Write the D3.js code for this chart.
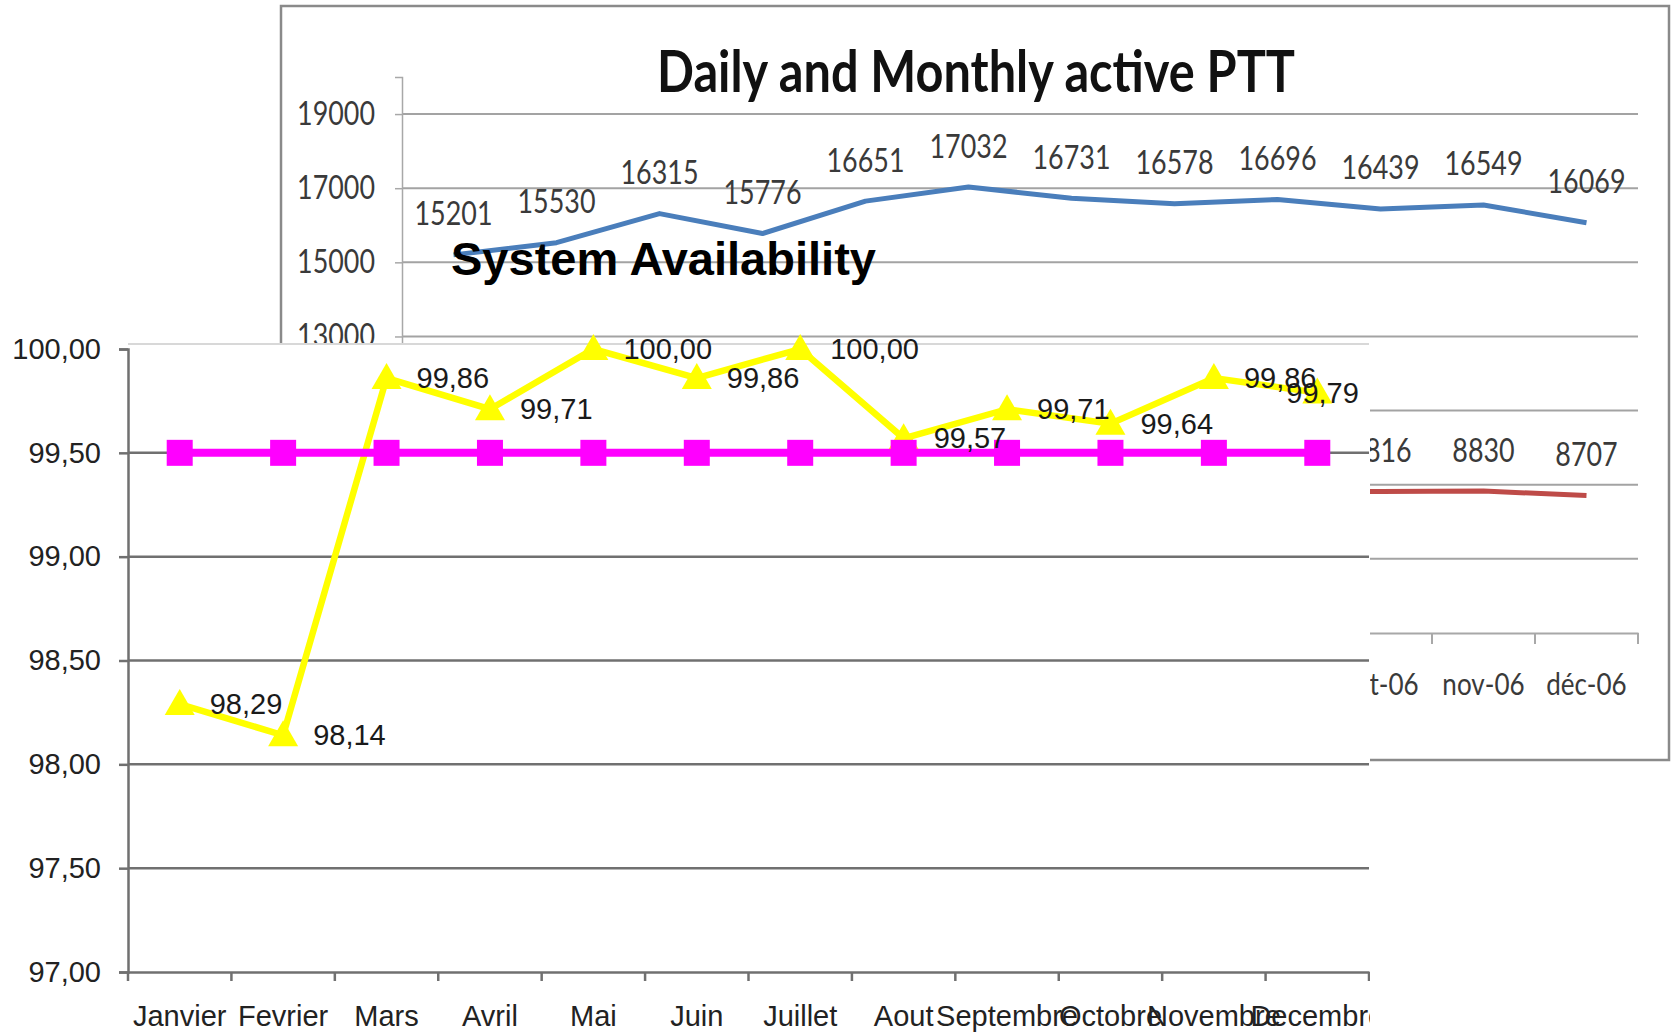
<!DOCTYPE html>
<html>
<head>
<meta charset="utf-8">
<script src="https://cdn.jsdelivr.net/npm/d3@7/dist/d3.min.js"></script>
<style>
  html, body { margin: 0; padding: 0; background: #fff; }
  svg { display: block; }
</style>
</head>
<body>
<svg id="chart" width="1673" height="1032"></svg>
<script>
// ---------- DATA ----------
// Back chart: "Daily and Monthly active PTT"
const backMonths = ["janv-06","févr-06","mars-06","avr-06","mai-06","juin-06","juil-06","août-06","sept-06","oct-06","nov-06","déc-06"];
const monthlyActive = [15201, 15530, 16315, 15776, 16651, 17032, 16731, 16578, 16696, 16439, 16549, 16069];
// Daily active: only Oct–Dec readable; Sep estimated from the visible line edge, the rest hidden.
const dailyActive = [null, null, null, null, null, null, null, null, 8810, 8816, 8830, 8707];
const backTicks = [5000, 7000, 9000, 11000, 13000, 15000, 17000, 19000];

// Front chart: "System Availability"
const months = ["Janvier","Fevrier","Mars","Avril","Mai","Juin","Juillet","Aout","Septembre","Octobre","Novembre","Decembre"];
const availability = [98.29, 98.14, 99.86, 99.71, 100.00, 99.86, 100.00, 99.57, 99.71, 99.64, 99.86, 99.79];
const target = [99.50, 99.50, 99.50, 99.50, 99.50, 99.50, 99.50, 99.50, 99.50, 99.50, 99.50, 99.50];
const frontTicks = [97.0, 97.5, 98.0, 98.5, 99.0, 99.5, 100.0];

// ---------- SETUP ----------
const svg = d3.select("#chart");
const calib = "Lato, 'Open Sans', sans-serif";
const arial = "'Liberation Sans', Arial, sans-serif";
const fmtComma = v => d3.format(".2f")(v).replace(".", ",");
// narrow the (Calibri-like) texts horizontally
function condense(sel, sx) {
  sel.each(function () {
    const w = this.getComputedTextLength();
    d3.select(this).attr("textLength", w * sx).attr("lengthAdjust", "spacingAndGlyphs");
  });
}
const SX = 0.84;

// ---------- BACK CHART ----------
const back = svg.append("g");
back.append("rect")
  .attr("x", 281).attr("y", 6).attr("width", 1388).attr("height", 754)
  .attr("fill", "#fff").attr("stroke", "#8a8a8a").attr("stroke-width", 2.5);

const xB = d3.scaleBand().domain(backMonths).range([402, 1638]);
const yB = d3.scaleLinear().domain([5000, 20000]).range([633, 77]);

// gridlines
back.append("g").selectAll("line").data(backTicks.filter(t => t > 5000)).join("line")
  .attr("x1", 402).attr("x2", 1638)
  .attr("y1", d => yB(d)).attr("y2", d => yB(d))
  .attr("stroke", "#a3a3a3").attr("stroke-width", 2);

// y axis
const yAxisB = back.append("g").attr("transform", "translate(402,0)")
  .call(d3.axisLeft(yB).tickValues(backTicks).tickSize(7).tickPadding(20).tickFormat(d3.format("d")));
yAxisB.select(".domain").attr("stroke", "#a8a8a8").attr("stroke-width", 1.5);
yAxisB.selectAll(".tick line").attr("stroke", "#a8a8a8").attr("stroke-width", 1.5);
yAxisB.selectAll("text").attr("font-family", calib).attr("font-size", 32).attr("fill", "#3a3a3a").call(condense, SX);

// x axis
const xAxisB = back.append("g").attr("transform", `translate(0,${yB(5000)})`)
  .call(d3.axisBottom(xB).tickSize(0).tickPadding(40));
xAxisB.select(".domain").attr("stroke", "#a8a8a8").attr("stroke-width", 2);
xAxisB.selectAll("text").attr("font-family", calib).attr("font-size", 31).attr("fill", "#3a3a3a").call(condense, SX);
back.append("g").selectAll("line").data(d3.range(13)).join("line")
  .attr("x1", i => 402 + i * xB.step()).attr("x2", i => 402 + i * xB.step())
  .attr("y1", yB(5000)).attr("y2", yB(5000) + 11)
  .attr("stroke", "#a8a8a8").attr("stroke-width", 2);

// series
const lineB = vals => d3.line()
  .defined(d => d != null)
  .x((d, i) => xB(backMonths[i]) + xB.bandwidth() / 2)
  .y(d => yB(d))(vals);

back.append("path").attr("d", lineB(monthlyActive))
  .attr("fill", "none").attr("stroke", "#4A7EBB").attr("stroke-width", 5).attr("stroke-linejoin", "round");
back.append("path").attr("d", lineB(dailyActive))
  .attr("fill", "none").attr("stroke", "#BE4B48").attr("stroke-width", 5).attr("stroke-linejoin", "round");

const labelB = (vals, fromIdx) => back.append("g").selectAll("text")
  .data(vals.map((v, i) => ({ v, i })).filter(d => d.v != null && d.i >= fromIdx))
  .join("text")
  .attr("x", d => xB(backMonths[d.i]) + xB.bandwidth() / 2)
  .attr("y", d => yB(d.v) - 42)
  .attr("text-anchor", "middle").attr("dominant-baseline", "central")
  .attr("font-family", calib).attr("font-size", 32).attr("fill", "#3a3a3a")
  .text(d => d.v)
  .call(condense, SX);
labelB(monthlyActive, 0);
labelB(dailyActive, 9);

back.append("text")
  .attr("x", 976).attr("y", 92)
  .attr("text-anchor", "middle")
  .attr("font-family", calib).attr("font-weight", "bold").attr("font-size", 58).attr("fill", "#111")
  .attr("textLength", 638).attr("lengthAdjust", "spacingAndGlyphs")
  .text("Daily and Monthly active PTT");

// ---------- FRONT CHART ----------
const clipId = "frontClip";
svg.append("defs").append("clipPath").attr("id", clipId)
  .append("rect").attr("x", 0).attr("y", 0).attr("width", 1370).attr("height", 1032);
const front = svg.append("g").attr("clip-path", `url(#${clipId})`);

front.append("rect").attr("x", 0).attr("y", 344).attr("width", 1370).attr("height", 700).attr("fill", "#fff");
front.append("line").attr("x1", 128).attr("x2", 1369).attr("y1", 344).attr("y2", 344)
  .attr("stroke", "#d8d8d8").attr("stroke-width", 2);

const xF = d3.scaleBand().domain(months).range([128, 1369]);
const yF = d3.scaleLinear().domain([97, 100]).range([972, 349]);

// gridlines
front.append("g").selectAll("line").data(frontTicks.filter(t => t > 97 && t < 100)).join("line")
  .attr("x1", 128).attr("x2", 1369)
  .attr("y1", d => yF(d)).attr("y2", d => yF(d))
  .attr("stroke", "#707070").attr("stroke-width", 2.5);

// y axis
const yAxisF = front.append("g").attr("transform", "translate(128,0)")
  .call(d3.axisLeft(yF).tickValues(frontTicks).tickSize(9).tickPadding(18).tickFormat(fmtComma));
yAxisF.select(".domain").attr("stroke", "#707070").attr("stroke-width", 2.5);
yAxisF.selectAll(".tick line").attr("stroke", "#707070").attr("stroke-width", 2.5);
yAxisF.selectAll("text").attr("font-family", arial).attr("font-size", 29).attr("fill", "#222");

// x axis
const xAxisF = front.append("g").attr("transform", `translate(0,${yF(97)})`)
  .call(d3.axisBottom(xF).tickSize(0).tickPadding(33));
xAxisF.select(".domain").attr("stroke", "#707070").attr("stroke-width", 2.5);
xAxisF.selectAll("text").attr("font-family", arial).attr("font-size", 29).attr("fill", "#222");
front.append("g").selectAll("line").data(d3.range(13)).join("line")
  .attr("x1", i => 128 + i * xF.step()).attr("x2", i => 128 + i * xF.step())
  .attr("y1", yF(97)).attr("y2", yF(97) + 9)
  .attr("stroke", "#707070").attr("stroke-width", 2.5);

const cx = i => xF(months[i]) + xF.bandwidth() / 2;
const lineF = d3.line().x((d, i) => cx(i)).y(d => yF(d));

// availability (yellow, triangles)
front.append("path").attr("d", lineF(availability))
  .attr("fill", "none").attr("stroke", "#FFFF00").attr("stroke-width", 6.5).attr("stroke-linejoin", "miter");
front.append("g").selectAll("path").data(availability).join("path")
  .attr("d", (d, i) => {
    const x = cx(i), y = yF(d);
    return `M${x},${y - 15}L${x + 15},${y + 11}L${x - 15},${y + 11}Z`;
  })
  .attr("fill", "#FFFF00");

// target (magenta, squares)
front.append("path").attr("d", lineF(target))
  .attr("fill", "none").attr("stroke", "#FF00FF").attr("stroke-width", 8);
front.append("g").selectAll("rect").data(target).join("rect")
  .attr("x", (d, i) => cx(i) - 13).attr("y", d => yF(d) - 13)
  .attr("width", 26).attr("height", 26)
  .attr("fill", "#FF00FF");

// labels
front.append("g").selectAll("text").data(availability).join("text")
  .attr("x", (d, i) => i === availability.length - 1 ? cx(i) - 31 : cx(i) + 30)
  .attr("y", d => yF(d))
  .attr("dominant-baseline", "central")
  .attr("font-family", arial).attr("font-size", 29).attr("fill", "#1a1a1a")
  .text(d => fmtComma(d));

front.append("text")
  .attr("x", 451).attr("y", 275)
  .attr("font-family", arial).attr("font-weight", "bold").attr("font-size", 47).attr("fill", "#000")
  .text("System Availability");
</script>
</body>
</html>
